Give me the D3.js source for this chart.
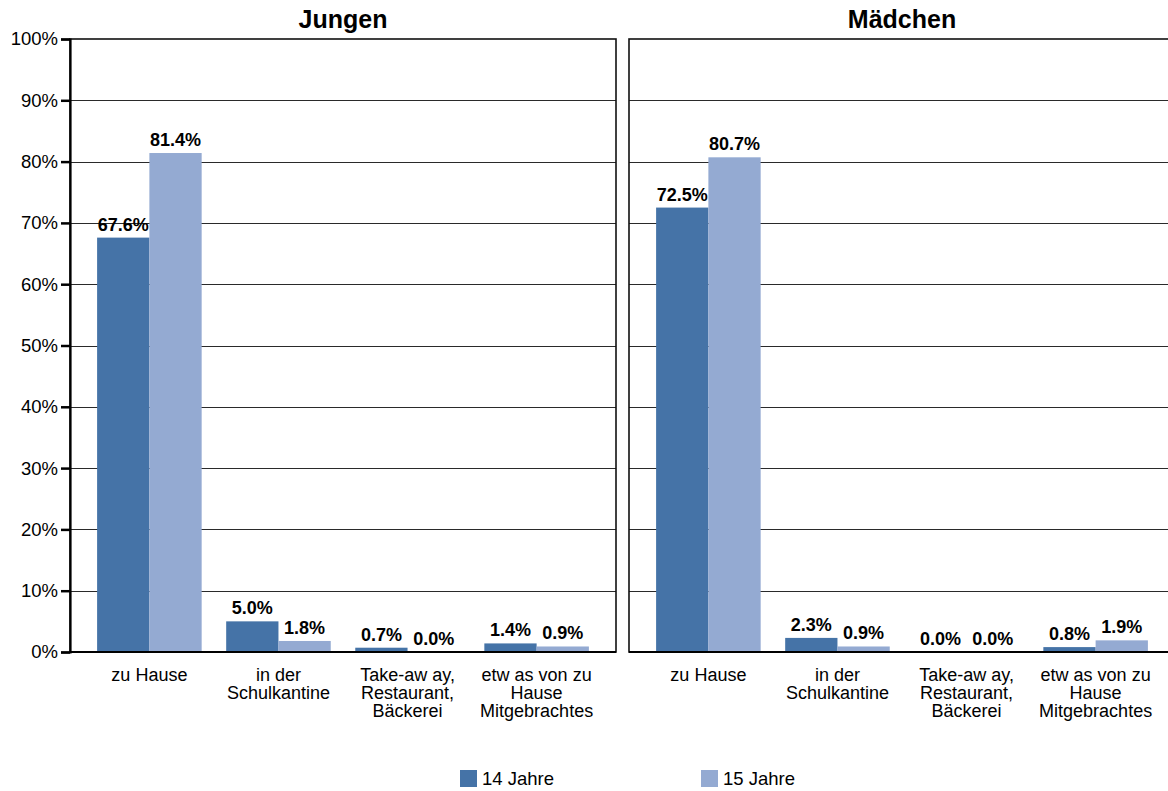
<!DOCTYPE html>
<html>
<head>
<meta charset="utf-8">
<script src="https://cdn.jsdelivr.net/npm/d3@7"></script>
<style>
  html, body { margin: 0; padding: 0; background: #ffffff; }
  svg { display: block; font-family: "Liberation Sans", Arial, sans-serif; }
</style>
</head>
<body>
<svg id="chart" width="1168" height="791"></svg>
<script>
// categories, each as its wrapped label lines
const categories = ["zu Hause", "in der Schulkantine", "Take-away", "etwas von zu Hause"];
const categoryLines = [
  ["zu Hause"],
  ["in der", "Schulkantine"],
  ["Take-aw ay,", "Restaurant,", "Bäckerei"],
  ["etw as von zu", "Hause", "Mitgebrachtes"]
];
const seriesNames = ["14 Jahre", "15 Jahre"];
const seriesColors = ["#4573a7", "#94aad2"];
const panelTitles = ["Jungen", "Mädchen"];

const jungen14 = [67.6, 5.0, 0.7, 1.4];
const jungen15 = [81.4, 1.8, 0.0, 0.9];
const maedchen14 = [72.5, 2.3, 0.0, 0.8];
const maedchen15 = [80.7, 0.9, 0.0, 1.9];

const yTicks = [0, 10, 20, 30, 40, 50, 60, 70, 80, 90, 100];

const panels = [
  { title: panelTitles[0], values: [jungen14, jungen15], left: 70 },
  { title: panelTitles[1], values: [maedchen14, maedchen15], left: 629 }
];

const svg = d3.select("#chart");
const plotTop = 39;
const plotBottom = 652;
const panelWidth = 546;

const y = d3.scaleLinear().domain([0, 100]).range([plotBottom, plotTop]);
const x = d3.scaleBand().domain(categories).range([0, panelWidth]).paddingInner(0.19).paddingOuter(0.21);
const xSub = d3.scaleBand().domain(seriesNames).range([0, x.bandwidth()]);

panels.forEach((panel, pi) => {
  const g = svg.append("g").attr("transform", `translate(${panel.left},0)`);

  // gridlines
  g.append("g")
    .selectAll("line")
    .data(yTicks.filter((t) => t > 0 && t < 100))
    .join("line")
    .attr("x1", 0)
    .attr("x2", panelWidth)
    .attr("y1", (d) => Math.round(y(d)) + 0.5)
    .attr("y2", (d) => Math.round(y(d)) + 0.5)
    .attr("stroke", "#2a2a2a")
    .attr("stroke-width", 1);

  // bars + value labels
  panel.values.forEach((vals, si) => {
    g.append("g")
      .selectAll("rect")
      .data(vals)
      .join("rect")
      .attr("x", (d, i) => x(categories[i]) + xSub(seriesNames[si]))
      .attr("y", (d) => y(d))
      .attr("width", xSub.bandwidth())
      .attr("height", (d) => y(0) - y(d))
      .attr("fill", seriesColors[si]);

    g.append("g")
      .selectAll("text")
      .data(vals)
      .join("text")
      .attr("x", (d, i) => x(categories[i]) + xSub(seriesNames[si]) + xSub.bandwidth() / 2)
      .attr("y", (d) => y(d) - 7)
      .attr("text-anchor", "middle")
      .attr("font-size", 18)
      .attr("font-weight", "bold")
      .attr("fill", "#000")
      .text((d) => d.toFixed(1) + "%");
  });

  // frame
  g.append("rect")
    .attr("x", 0)
    .attr("y", plotTop)
    .attr("width", panelWidth)
    .attr("height", plotBottom - plotTop)
    .attr("fill", "none")
    .attr("stroke", "#111")
    .attr("stroke-width", 1.6);

  g.append("line")
    .attr("x1", 0)
    .attr("x2", panelWidth)
    .attr("y1", plotBottom)
    .attr("y2", plotBottom)
    .attr("stroke", "#000")
    .attr("stroke-width", 2);

  // title
  g.append("text")
    .attr("x", panelWidth / 2)
    .attr("y", 28)
    .attr("text-anchor", "middle")
    .attr("font-size", 25)
    .attr("font-weight", "bold")
    .text(panel.title);

  // category labels
  const labels = g.append("g")
    .selectAll("text")
    .data(categoryLines)
    .join("text")
    .attr("text-anchor", "middle")
    .attr("font-size", 18)
    .attr("fill", "#000")
    .attr("transform", (d, i) => `translate(${x(categories[i]) + x.bandwidth() / 2},681)`);
  labels.selectAll("tspan")
    .data((d) => d)
    .join("tspan")
    .attr("x", 0)
    .attr("y", (d, i) => i * 18)
    .text((d) => d);

  // y axis only on the first panel
  if (pi === 0) {
    g.append("g")
      .call(d3.axisLeft(y).tickValues(yTicks).tickSize(9).tickFormat((d) => d + "%"))
      .call((a) => a.select(".domain").attr("stroke", "#000").attr("stroke-width", 2.2))
      .call((a) => a.selectAll(".tick line").attr("stroke", "#000").attr("stroke-width", 2.5))
      .call((a) => a.selectAll(".tick text")
        .attr("x", -12)
        .attr("font-size", 18.5)
        .attr("font-family", "\"Liberation Sans\", Arial, sans-serif")
        .attr("fill", "#000"));
  }
});

// legend
const legendX = [460, 701];
const legend = svg.append("g")
  .selectAll("g")
  .data(seriesNames)
  .join("g")
  .attr("transform", (d, i) => `translate(${legendX[i]},770)`);
legend.append("rect")
  .attr("width", 17)
  .attr("height", 17)
  .attr("fill", (d, i) => seriesColors[i]);
legend.append("text")
  .attr("x", 22)
  .attr("y", 15)
  .attr("font-size", 18.5)
  .attr("fill", "#000")
  .text((d) => d);
</script>
</body>
</html>
